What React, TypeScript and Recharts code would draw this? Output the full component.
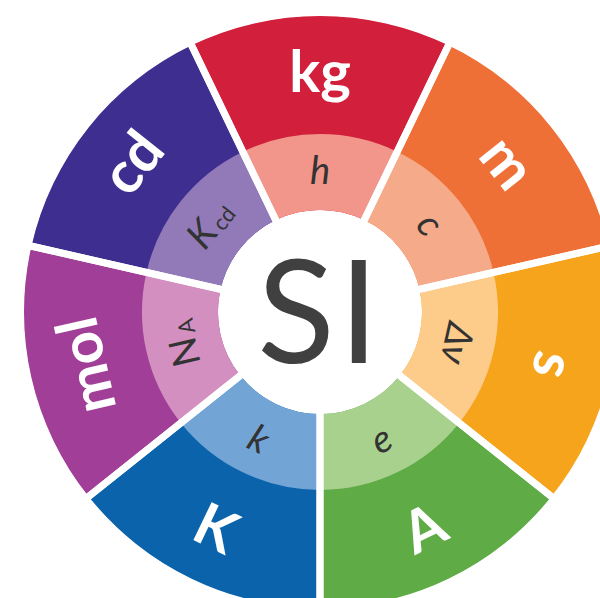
import { Cell, Pie, PieChart } from "recharts";

// seven base units, clockwise from the top
const unitSymbols = ["kg", "m", "s", "A", "K", "mol", "cd"];
const unitColors = ["#d21f3b", "#ef7036", "#f5a41c", "#5fab45", "#0b64ab", "#a13e97", "#3e2e8f"];

// defining constants in the inner ring
const constantSymbols = ["h", "c", "Δν", "e", "k", "N", "K"];
const constantSubscripts = ["", "", "", "", "", "A", "cd"];
const constantItalic = [true, true, true, true, true, false, true];
const constantColors = ["#f2958a", "#f5aa8a", "#fdcb8a", "#a9d18e", "#72a4d6", "#d48fc1", "#927ab8"];

const sliceShares = [1, 1, 1, 1, 1, 1, 1];
const centerTitle = ["SI"];

const unitData = unitSymbols.map((name, i) => ({ name, value: sliceShares[i] }));
const constantData = constantSymbols.map((name, i) => ({ name, value: sliceShares[i] }));
const coreData = centerTitle.map((name) => ({ name, value: 1 }));

const RAD = Math.PI / 180;
const half = 180 / unitSymbols.length;
const START = 90 + half;
const END = START - 360;

const CX = 320;
const CY = 312;
const R_CORE = 102;
const R_MID = 178;
const R_OUT = 296;

const FONT = "Lato, 'Open Sans', sans-serif";

function polar(cx: number, cy: number, r: number, angle: number) {
  return { x: cx + r * Math.cos(-angle * RAD), y: cy + r * Math.sin(-angle * RAD) };
}

// tops face outward, except the lower wedges which are turned to stay readable
function labelRotation(midAngle: number) {
  let rot = (((90 - midAngle) % 360) + 360) % 360;
  if (rot > 120 && rot < 240) rot -= 180;
  return rot;
}

function UnitLabel(props: any) {
  const { cx, cy, midAngle, index } = props;
  const { x, y } = polar(cx, cy, 240, midAngle);
  return (
    <text
      x={x}
      y={y}
      dy="0.35em"
      textAnchor="middle"
      fill="#ffffff"
      fontFamily={FONT}
      fontWeight={700}
      fontSize={58}
      transform={`rotate(${labelRotation(midAngle)}, ${x}, ${y})`}
    >
      {unitSymbols[index]}
    </text>
  );
}

function ConstantLabel(props: any) {
  const { cx, cy, midAngle, index } = props;
  const { x, y } = polar(cx, cy, 141, midAngle);
  const sub = constantSubscripts[index];
  return (
    <text
      x={x}
      y={y}
      dy="0.35em"
      textAnchor="middle"
      fill="#333333"
      fontFamily={FONT}
      fontStyle={constantItalic[index] ? "italic" : "normal"}
      fontSize={38}
      transform={`rotate(${labelRotation(midAngle)}, ${x}, ${y})`}
    >
      {constantSymbols[index]}
      {sub && (
        <tspan fontSize={22} fontStyle="normal" dx={3} dy={2}>
          {sub}
        </tspan>
      )}
    </text>
  );
}

function CoreLabel(props: any) {
  const { cx, cy, index } = props;
  return (
    <text
      x={cx}
      y={cy}
      dy={51}
      textAnchor="middle"
      fill="#404040"
      fontFamily={FONT}
      fontSize={143}
      letterSpacing={4}
    >
      {centerTitle[index]}
    </text>
  );
}

export default function App() {
  return (
    <div style={{ position: "fixed", left: 0, top: 0, width: 600, height: 598, overflow: "hidden", background: "#fff" }}>
      <PieChart width={600} height={598} margin={{ top: 0, right: 0, bottom: 0, left: 0 }}>
        <Pie
          data={unitData}
          dataKey="value"
          cx={CX}
          cy={CY}
          innerRadius={R_CORE}
          outerRadius={R_OUT}
          startAngle={START}
          endAngle={END}
          stroke="none"
          label={UnitLabel}
          labelLine={false}
          isAnimationActive={false}
        >
          {unitData.map((d, i) => (
            <Cell key={d.name} fill={unitColors[i]} stroke="none" />
          ))}
        </Pie>
        <Pie
          data={constantData}
          dataKey="value"
          cx={CX}
          cy={CY}
          innerRadius={R_CORE}
          outerRadius={R_MID}
          startAngle={START}
          endAngle={END}
          stroke="none"
          label={ConstantLabel}
          labelLine={false}
          isAnimationActive={false}
        >
          {constantData.map((d, i) => (
            <Cell key={d.name} fill={constantColors[i]} stroke="none" />
          ))}
        </Pie>
        {/* white spokes between the wedges */}
        <Pie
          data={unitData}
          dataKey="value"
          cx={CX}
          cy={CY}
          innerRadius={R_CORE - 4}
          outerRadius={R_OUT + 4}
          startAngle={START}
          endAngle={END}
          fill="none"
          stroke="#ffffff"
          strokeWidth={7}
          isAnimationActive={false}
        >
          {unitData.map((d) => (
            <Cell key={d.name} fill="none" stroke="#ffffff" strokeWidth={7} />
          ))}
        </Pie>
        <Pie
          data={coreData}
          dataKey="value"
          cx={CX}
          cy={CY}
          innerRadius={0}
          outerRadius={R_CORE - 1}
          fill="#ffffff"
          stroke="none"
          label={CoreLabel}
          labelLine={false}
          isAnimationActive={false}
        >
          {coreData.map((d) => (
            <Cell key={d.name} fill="#ffffff" stroke="none" />
          ))}
        </Pie>
      </PieChart>
    </div>
  );
}
